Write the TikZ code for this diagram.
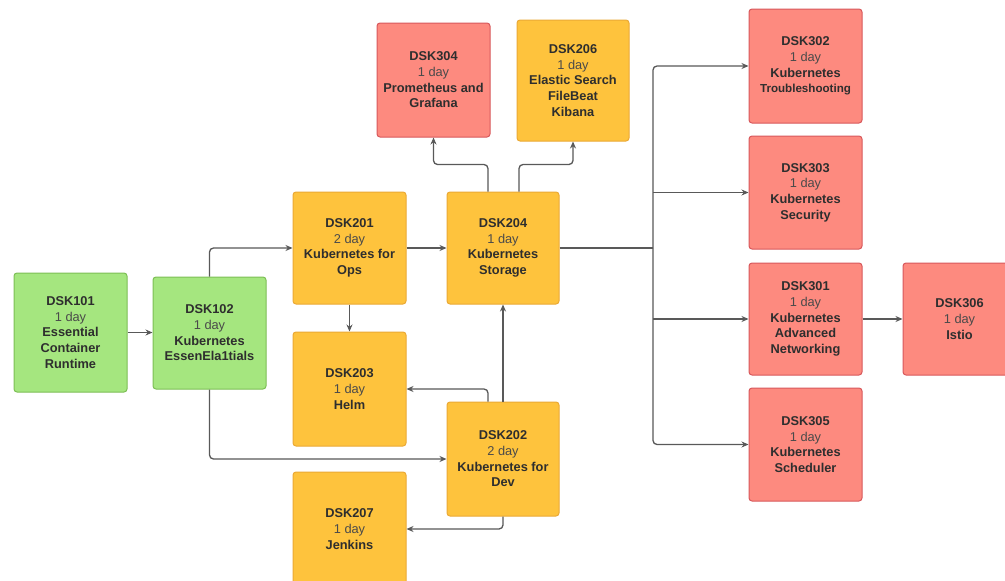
\documentclass[tikz,border=0pt]{standalone}
\usepackage{fontspec}
\setmainfont{Liberation Sans}
\usetikzlibrary{arrows.meta}
\definecolor{gfill}{HTML}{A5E67F}
\definecolor{gdraw}{HTML}{7DBF55}
\definecolor{ofill}{HTML}{FEC33D}
\definecolor{odraw}{HTML}{EBA935}
\definecolor{rfill}{HTML}{FD8A7F}
\definecolor{rdraw}{HTML}{D8585C}
\definecolor{txt}{HTML}{2E2E2E}
\definecolor{sub}{HTML}{4A4A4A}
\definecolor{lin}{HTML}{595959}
\tikzset{
  box/.style={rectangle, rounded corners=3pt, line width=1pt, minimum width=113pt, minimum height=112pt,
    align=center, text=txt, font=\fontsize{12.8}{15.7}\selectfont\bfseries, inner sep=2pt},
  gbox/.style={box, fill=gfill, draw=gdraw},
  obox/.style={box, fill=ofill, draw=odraw},
  rbox/.style={box, fill=rfill, draw=rdraw},
  arr/.style={draw=lin, line width=1.3pt, rounded corners=4pt, -{Stealth[length=7pt,width=6pt]}},
  ln/.style={draw=lin, line width=1.3pt, rounded corners=4pt},
}
\newcommand{\dy}[1]{\\{\mdseries\color{sub}#1}\\}
\begin{document}
\begin{tikzpicture}[x=1pt,y=-1pt]
\useasboundingbox[fill=white] (0,0) rectangle (1005,581);
\node[gbox, minimum height=119pt] (d101) at (70.5,332.5) {DSK101\dy{1 day}Essential\\Container\\Runtime};
\node[gbox] (d102) at (209.5,333) {DSK102\dy{1 day}Kubernetes\\EssenEla1tials};
\node[obox] (d201) at (349.5,248) {DSK201\dy{2 day}Kubernetes for\\Ops};
\node[obox, minimum height=114pt] (d203) at (349.5,389) {DSK203\dy{1 day}Helm};
\node[obox, minimum height=114pt] (d207) at (349.5,529) {DSK207\dy{1 day}Jenkins};
\node[obox, minimum width=112pt] (d204) at (503,248) {DSK204\dy{1 day}Kubernetes\\Storage};
\node[obox, minimum width=112pt, minimum height=114pt] (d202) at (503,459) {DSK202\dy{2 day}Kubernetes for\\Dev};
\node[rbox, minimum height=114pt] (d304) at (433.5,80) {DSK304\dy{1 day}Prometheus and\\Grafana};
\node[obox, minimum width=112pt, minimum height=121pt] (d206) at (573,80.5) {DSK206\dy{1 day}Elastic Search\\FileBeat\\Kibana};
\node[rbox, minimum height=114pt] (d302) at (805.5,66) {DSK302\dy{1 day}Kubernetes\\{\fontsize{11.6}{15.7}\selectfont Troubleshooting}};
\node[rbox, minimum height=113pt] (d303) at (805.5,192.5) {DSK303\dy{1 day}Kubernetes\\Security};
\node[rbox] (d301) at (805.5,319) {DSK301\dy{1 day}Kubernetes\\Advanced\\Networking};
\node[rbox, minimum height=113pt] (d305) at (805.5,444.5) {DSK305\dy{1 day}Kubernetes\\Scheduler};
\node[rbox] (d306) at (959.5,319) {DSK306\dy{1 day}Istio};
\coordinate (bus) at (653,248);
% connectors
\draw[arr] (d101.east) -- (d102.west |- d101.east);
\draw[arr] (d102.north) |- (d201.west);
\draw[arr] (d102.south) |- (d202.west);
\draw[arr] (d201.south) -- (d203.north);
\draw[arr] (d201.east) -- (d204.west);
\draw[arr] ([xshift=-15pt]d204.north) -- ++(0,-27) -| (d304.south);
\draw[arr] ([xshift=16pt]d204.north) -- ++(0,-27) -| (d206.south);
\draw[ln] (d204.east) -- (bus);
\draw[arr] (bus) |- (d302.west);
\draw[arr] (bus) |- (d305.west);
\draw[arr] (bus |- d303.west) -- (d303.west);
\draw[arr] (bus |- d301.west) -- (d301.west);
\draw[arr] (d202.north) -- (d204.south);
\draw[arr] ([xshift=-15pt]d202.north) |- (d203.east);
\draw[arr] (d202.south) |- (d207.east);
\draw[arr] (d301.east) -- (d306.west);
\end{tikzpicture}
\end{document}
